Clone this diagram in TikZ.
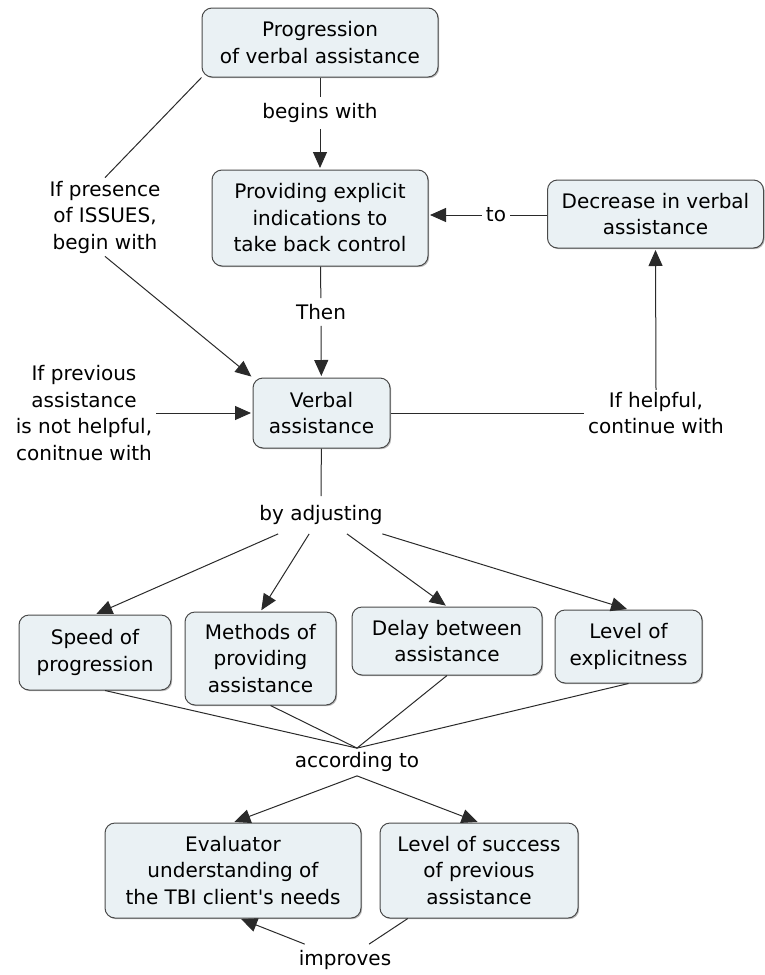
\documentclass[tikz,border=0pt]{standalone}
\usepackage{fontspec}
\setmainfont{DejaVu Sans}[Ligatures=TeXOff]
\usetikzlibrary{arrows.meta,shadows}
\definecolor{boxfill}{HTML}{EAF1F4}
\definecolor{boxline}{HTML}{4A4A4A}
\definecolor{inkline}{HTML}{2A2A2A}
\tikzset{
  concept/.style={draw=boxline, line width=1pt, fill=boxfill, rounded corners=10pt,
    align=center, inner sep=2pt, font=\fontsize{20}{26.5}\selectfont,
    drop shadow={shadow xshift=1.2pt, shadow yshift=-1.2pt, fill=black!45, opacity=0.6}},
  linkword/.style={align=center, inner xsep=4pt, inner ysep=6pt,
    font=\fontsize{20}{26.5}\selectfont},
  link/.style={draw=inkline, line width=1pt},
  arr/.style={link, -{Triangle[length=16pt,width=14pt]}, shorten >=1.5pt}
}
\begin{document}
\begin{tikzpicture}[x=1pt,y=-1pt]
\useasboundingbox (0,0) rectangle (764,975);

% concepts
\node[concept, minimum width=236pt, minimum height=69pt] (prog) at (320,42.5)
  {Progression\\of verbal assistance};
\node[concept, minimum width=216pt, minimum height=96pt] (prov) at (320,218)
  {Providing explicit\\indications to\\take back control};
\node[concept, minimum width=216pt, minimum height=68pt] (decr) at (655.5,214)
  {Decrease in verbal\\assistance};
\node[concept, minimum width=137pt, minimum height=70pt] (verbal) at (321.5,413)
  {Verbal\\assistance};
\node[concept, minimum width=152pt, minimum height=75pt] (speed) at (95,652.5)
  {Speed of\\progression};
\node[concept, minimum width=151pt, minimum height=93pt] (methods) at (260.5,658.5)
  {Methods of\\providing\\assistance};
\node[concept, minimum width=190pt, minimum height=68pt] (delay) at (447,641)
  {Delay between\\assistance};
\node[concept, minimum width=147pt, minimum height=73pt] (level) at (628.5,646.5)
  {Level of\\explicitness};
\node[concept, minimum width=256pt, minimum height=95pt] (eval) at (233,870.5)
  {Evaluator\\understanding of\\the TBI client's needs};
\node[concept, minimum width=198pt, minimum height=95pt] (succ) at (479,870.5)
  {Level of success\\of previous\\assistance};

% linking phrases
\node[linkword] (begins) at (320,113) {begins with};
\node[linkword, inner ysep=3pt] (issues) at (105,217) {If presence\\of ISSUES,\\begin with};
\node[linkword] (to) at (496,215) {to};
\node[linkword] (then) at (321,312) {Then};
\node[linkword] (prev) at (84,413) {If previous\\assistance\\is not helpful,\\conitnue with};
\node[linkword, inner ysep=2pt] (helpful) at (656,413) {If helpful,\\continue with};
\node[linkword, inner ysep=9pt] (adjust) at (321,515) {by adjusting};
\node[linkword, inner ysep=4pt] (acc) at (357,762) {according to};
\node[linkword] (imp) at (345,960) {improves};

% connectors
\draw[link] (prog) -- (begins);
\draw[arr] (begins) -- (prov);
\draw[link] (prog.south west) -- (issues.north);
\draw[arr] (issues.south) -- (verbal.north west);
\draw[link] (decr.west |- to) -- (to);
\draw[arr] (to) -- (to -| prov.east);
\draw[link] (prov) -- (then);
\draw[arr] (then) -- (verbal);
\draw[arr] (prev) -- (verbal);
\draw[link] (verbal) -- (helpful);
\draw[arr] (helpful.north) -- (decr.south);
\draw[link] (verbal) -- (adjust);
\draw[arr] (adjust) -- (speed.north);
\draw[arr] (adjust) -- (methods.north);
\draw[arr] (adjust) -- (delay.north);
\draw[arr] (adjust) -- (level.north);
\draw[link] (speed.south) ++(10,0) coordinate (sp) -- (acc.north);
\draw[link] (methods.south) ++(10,0) coordinate (me) -- (acc.north);
\draw[link] (delay.south) -- (acc.north);
\draw[link] (level.south) -- (acc.north);
\draw[arr] (acc.south) -- (eval.north);
\draw[arr] (acc.south) -- (succ.north);
\draw[link] (succ.214) -- (imp);
\draw[arr] (imp) -- (eval.-82);
\end{tikzpicture}
\end{document}
